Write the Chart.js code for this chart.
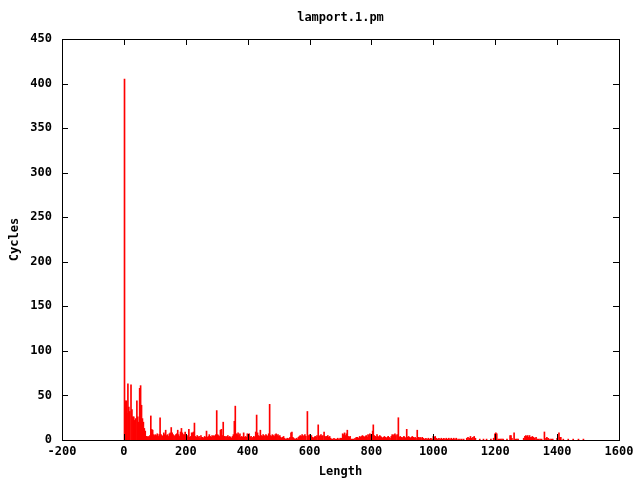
<!DOCTYPE html>
<html>
<head>
<meta charset="utf-8">
<script src="https://cdn.jsdelivr.net/npm/chart.js@4/dist/chart.umd.min.js"></script>
<style>
  body { margin: 0; background: #fff; }
</style>
</head>
<body>
<canvas id="chart" width="640" height="480"></canvas>
<script>
const title = 'lamport.1.pm';
const xLabel = 'Length';
const yLabel = 'Cycles';
const xTicks = [-200, 0, 200, 400, 600, 800, 1000, 1200, 1400, 1600];
const yTicks = [0, 50, 100, 150, 200, 250, 300, 350, 400, 450];

// impulse positions (Length) and heights (Cycles)
const lengths = [
  2, 4, 6, 8, 10, 13, 16, 19, 23, 26,
  29, 32, 35, 38, 42, 45, 48, 51, 54, 57,
  60, 63, 66, 69, 72, 75, 78, 81, 84, 87,
  90, 93, 96, 99,
  102, 105, 108, 111, 114, 117, 120, 123, 126, 129,
  132, 135, 138, 141, 144, 147, 150, 153, 156, 159,
  162, 165, 168, 171, 174, 177, 180, 183, 186, 189,
  192, 195, 198, 201, 204, 207, 210, 213, 216, 219,
  222, 225, 228, 231, 234, 237, 240, 243, 246, 249,
  252, 255, 258, 261, 264, 267, 270, 273, 276, 279,
  282, 285, 288, 291, 294, 297,
  300, 303, 306, 309, 312, 315, 318, 321, 324, 327,
  330, 333, 336, 339, 342, 345, 348, 351, 354, 357,
  360, 363, 366, 369, 372, 375, 378, 381, 384, 387,
  390, 393, 396, 399, 402, 405, 408, 411, 414, 417,
  420, 423, 426, 429, 432, 435, 438, 441, 444, 447,
  450, 453, 456, 459, 462, 465, 468, 471, 474, 477,
  480, 483, 486, 489, 492, 495, 498, 501, 504, 507,
  510, 513, 516, 519, 522, 525, 528, 531, 534, 537,
  540, 543, 546, 549, 552, 555, 558, 561, 564, 567,
  570, 573, 576, 579, 582, 585, 588, 593, 597, 600,
  603, 606, 609, 612, 615, 618, 621, 624, 628, 631,
  634, 637, 640, 643, 647, 650, 653, 656, 659, 662,
  665, 668, 671, 675, 679, 683, 687, 691, 695, 699,
  703, 707, 710, 713, 716, 719, 722, 725, 728, 731,
  735, 739, 743, 747, 751, 755, 758, 762, 765, 768,
  771, 774, 777, 780, 783, 786, 789, 792, 795, 798,
  801, 804, 806, 809, 812, 815, 818, 821, 824, 827,
  830, 833, 836, 839, 842, 845, 848, 851, 854, 857,
  860, 864, 867, 870, 873, 876, 879, 883, 887, 890,
  893, 896, 899, 902, 905, 908, 911, 914, 917, 920,
  923, 926, 929, 932, 935, 938, 941, 944, 948, 951,
  954, 957, 960, 964, 968, 972, 976, 980, 984, 988,
  992, 996,
  1000, 1003, 1006, 1010, 1014, 1018, 1022, 1026, 1030, 1034,
  1038, 1042, 1046, 1050, 1054, 1058, 1062, 1066, 1070, 1074,
  1080, 1086, 1092, 1098, 1108, 1112, 1116, 1120, 1124, 1128,
  1132, 1136, 1150, 1162, 1172, 1186, 1195, 1199, 1202, 1205,
  1210, 1214, 1218, 1222, 1226, 1238, 1248, 1251, 1254, 1261,
  1266, 1270, 1274, 1292, 1296, 1299, 1302, 1305, 1308, 1311,
  1314, 1317, 1320, 1324, 1328, 1332, 1336, 1340, 1345, 1350,
  1359, 1364, 1367, 1371, 1377, 1382, 1386, 1400, 1406, 1409,
  1412, 1420, 1436, 1452, 1469, 1485
];
const cycles = [
  405, 44, 42, 44, 30, 63, 37, 32, 62, 34,
  26, 26, 22, 24, 44, 26, 20, 58, 61, 39,
  24, 20, 13, 10, 4, 3, 4, 3, 5, 27,
  12, 11, 6, 5,
  6, 5, 7, 4, 6, 25, 6, 5, 4, 8,
  6, 11, 5, 6, 4, 7, 8, 14, 8, 6,
  5, 4, 6, 7, 11, 6, 4, 9, 13, 8,
  6, 6, 9, 4, 3, 5, 12, 3, 4, 8,
  8, 9, 19, 4, 3, 5, 3, 4, 2, 5,
  3, 3, 2, 4, 3, 10, 3, 4, 6, 4,
  3, 5, 4, 5, 4, 6,
  33, 6, 5, 4, 11, 12, 5, 20, 4, 3,
  4, 3, 5, 3, 4, 3, 2, 4, 6, 21,
  38, 7, 6, 8, 5, 7, 3, 4, 3, 8,
  3, 4, 3, 7, 6, 7, 3, 4, 2, 3,
  4, 3, 9, 28, 8, 5, 4, 11, 5, 4,
  6, 5, 4, 6, 5, 4, 7, 40, 5, 4,
  6, 5, 4, 6, 7, 5, 6, 4, 5, 3,
  2, 3, 4, 2, 1, 1, 2, 1, 2, 3,
  8, 9, 3, 2, 1, 1, 2, 1, 3, 4,
  5, 4, 6, 4, 5, 6, 4, 32, 5, 6,
  4, 5, 3, 2, 3, 4, 3, 5, 17, 4,
  5, 6, 4, 5, 9, 4, 3, 4, 5, 3,
  4, 2, 1, 1, 2, 1, 1, 2, 1, 2,
  2, 7, 6, 8, 5, 7, 11, 4, 3, 4,
  1, 1, 1, 2, 3, 3, 2, 4, 3, 4,
  5, 4, 3, 4, 5, 3, 6, 5, 7, 6,
  5, 10, 17, 5, 4, 3, 6, 4, 3, 5,
  4, 3, 2, 3, 4, 3, 2, 3, 4, 3,
  2, 4, 6, 5, 6, 7, 5, 6, 25, 3,
  4, 3, 2, 3, 4, 3, 2, 12, 3, 4,
  3, 2, 3, 4, 3, 2, 3, 2, 11, 3,
  2, 3, 2, 3, 2, 1, 2, 1, 2, 1,
  2, 1,
  4, 3, 4, 2, 1, 2, 1, 2, 1, 2,
  1, 2, 1, 2, 1, 2, 1, 2, 1, 2,
  1, 1, 1, 1, 2, 3, 2, 4, 2, 3,
  4, 2, 1, 1, 1, 1, 2, 7, 8, 7,
  1, 1, 1, 1, 1, 1, 5, 5, 2, 8,
  1, 1, 1, 2, 4, 5, 4, 5, 3, 5,
  3, 3, 4, 3, 2, 3, 1, 1, 1, 1,
  9, 2, 3, 2, 1, 1, 1, 2, 8, 3,
  3, 1, 1, 1, 1, 1
];

const font = { family: '"DejaVu Sans Mono", monospace', size: 12, weight: 'bold' };

// gnuplot-like frame: full box, inward ticks on all four sides, titles
const gnuplotFrame = {
  id: 'gnuplotFrame',
  afterDatasetsDraw(chart) {
    const { ctx, chartArea: a, scales: { x, y } } = chart;
    ctx.save();
    ctx.strokeStyle = '#000';
    ctx.lineWidth = 1;
    ctx.beginPath();
    xTicks.forEach(v => {
      const px = Math.round(x.getPixelForValue(v)) + 0.5;
      ctx.moveTo(px, a.bottom); ctx.lineTo(px, a.bottom - 6);
      ctx.moveTo(px, a.top); ctx.lineTo(px, a.top + 6);
    });
    yTicks.forEach(v => {
      const py = Math.round(y.getPixelForValue(v)) + 0.5;
      ctx.moveTo(a.left, py); ctx.lineTo(a.left + 6, py);
      ctx.moveTo(a.right, py); ctx.lineTo(a.right - 6, py);
    });
    ctx.stroke();
    ctx.strokeRect(Math.round(a.left) + 0.5, Math.round(a.top) + 0.5,
      Math.round(a.right - a.left), Math.round(a.bottom - a.top));

    ctx.fillStyle = '#000';
    ctx.font = `bold ${font.size}px ${font.family}`;
    ctx.textAlign = 'center';
    ctx.textBaseline = 'middle';
    const cx = (a.left + a.right) / 2;
    ctx.fillText(title, cx, 18);
    ctx.fillText(xLabel, cx, 472);
    ctx.translate(15, (a.top + a.bottom) / 2);
    ctx.rotate(-Math.PI / 2);
    ctx.fillText(yLabel, 0, 0);
    ctx.restore();
  }
};

new Chart(document.getElementById('chart'), {
  type: 'bar',
  data: {
    datasets: [{
      data: lengths.map((x, i) => ({ x, y: cycles[i] })),
      backgroundColor: '#ff0000',
      borderWidth: 0,
      barThickness: 1
    }]
  },
  options: {
    responsive: false,
    animation: false,
    devicePixelRatio: 1,
    layout: { padding: { top: 39, right: 21, bottom: 0, left: 0 } },
    plugins: {
      legend: { display: false },
      tooltip: { enabled: false }
    },
    scales: {
      x: {
        type: 'linear',
        min: -200,
        max: 1600,
        offset: false,
        grid: { display: false, drawTicks: false, offset: false },
        border: { display: false },
        ticks: {
          stepSize: 200, autoSkip: false, maxRotation: 0,
          color: '#000', font, padding: 5,
          callback: v => String(v)
        },
        afterFit: s => { s.height = 40; }
      },
      y: {
        min: 0,
        max: 450,
        grid: { display: false, drawTicks: false },
        border: { display: false },
        ticks: {
          stepSize: 50, color: '#000', font, padding: 10,
          callback: v => String(v)
        },
        afterFit: s => { s.width = 62; }
      }
    }
  },
  plugins: [gnuplotFrame]
});
</script>
</body>
</html>
